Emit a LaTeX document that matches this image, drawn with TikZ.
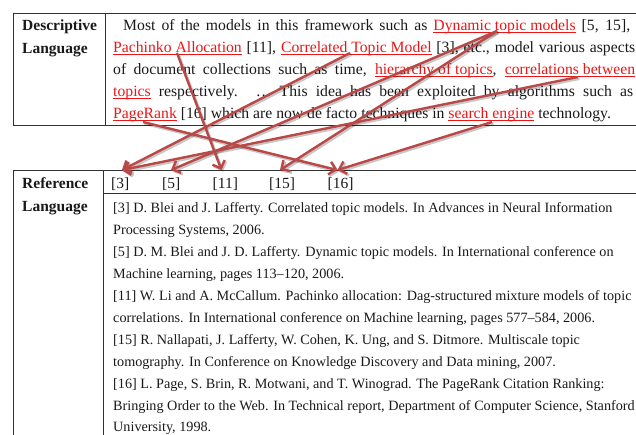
\documentclass[tikz,border=0pt]{standalone}
\usepackage{fontspec}
\setmainfont{Liberation Serif}
\usetikzlibrary{arrows.meta,calc}
\definecolor{arrred}{RGB}{186,72,70}
\definecolor{ulred}{RGB}{236,22,22}
\definecolor{tblgray}{RGB}{50,50,50}
\definecolor{txt}{RGB}{25,25,25}
\newcommand\ulr[1]{{\color{ulred}\setbox0\hbox{#1}\rlap{\rule[-2.4pt]{\wd0}{0.75pt}}\box0}}
\begin{document}
\begin{tikzpicture}[x=1pt,y=-1pt,
  tbl/.style={draw=tblgray,line width=1pt},
  big/.style={anchor=base west,inner sep=0pt,text=txt,font=\fontsize{15.7}{18}\selectfont},
  head/.style={big,font=\fontsize{15.5}{18}\selectfont\bfseries},
  refnum/.style={anchor=base west,inner sep=0pt,text=txt,font=\fontsize{15.5}{18}\selectfont},
  refline/.style={anchor=base west,inner sep=0pt,text=txt,font=\fontsize{14.2}{16}\selectfont},
  arr/.style={draw=arrred,line width=2.4pt,-{Straight Barb[length=6.5pt,width=13pt,line width=2.4pt]}},
  arrsh/.style={draw=black,opacity=0.22,line width=2.8pt,-{Straight Barb[length=6.5pt,width=13pt,line width=2.8pt]}}
]
\useasboundingbox (0,0) rectangle (636,434);
\begin{scope}
\clip (0,0) rectangle (636,434);
% ---- top table
\draw[tbl] (13,13) -- (650,13);
\draw[tbl] (13,125) -- (650,125);
\draw[tbl] (13,13) -- (13,125);
\draw[tbl] (105,13) -- (105,125);
\node[head] (h1) at (22,30) {Descriptive};
\node[head] (h2) at (22,53) {Language};
\node[big] (l1) at (123,30) {\makebox[507pt][s]{Most of the models in this framework such as \ulr{Dynamic topic models} [5, 15],}};
\node[big] (l2) at (113,52) {\makebox[522pt][s]{\ulr{Pachinko Allocation} [11], \ulr{Correlated Topic Model} [3], etc., model various aspects}};
\node[big] (l3) at (113,74) {\makebox[522pt][s]{of document collections such as time, \ulr{hierarchy of topics}, \ulr{correlations between}}};
\node[big] (l4) at (113,96) {\makebox[520pt][s]{\ulr{topics} respectively. … This idea has been exploited by algorithms such as}};
\node[big] (l5) at (113,118) {\ulr{PageRank} [16] which are now de facto techniques in \ulr{search engine} technology.};
% ---- bottom table
\draw[tbl] (13,450) -- (13,170) -- (650,170);
\draw[tbl] (103,170) -- (103,450);
\draw[tbl] (103,193) -- (650,193);
\node[head] (h3) at (22,188) {Reference};
\node[head] (h4) at (22,211) {Language};
\node[refnum] (r3) at (111,188) {[3]};
\node[refnum] (r5) at (162,188) {[5]};
\node[refnum] (r11) at (212.5,188) {[11]};
\node[refnum] (r15) at (269,188) {[15]};
\node[refnum] (r16) at (327.5,188) {[16]};
\node[refline] (b1) at (113,212) {[3] D. Blei and J. Lafferty. Correlated topic models. In Advances in Neural Information};
\node[refline] (b2) at (113,234) {Processing Systems, 2006.};
\node[refline] (b3) at (113,256) {[5] D. M. Blei and J. D. Lafferty. Dynamic topic models. In International conference on};
\node[refline] (b4) at (113,278) {Machine learning, pages 113–120, 2006.};
\node[refline] (b5) at (113,300) {[11] W. Li and A. McCallum. Pachinko allocation: Dag-structured mixture models of topic};
\node[refline] (b6) at (113,322) {correlations. In International conference on Machine learning, pages 577–584, 2006.};
\node[refline] (b7) at (113,344) {[15] R. Nallapati, J. Lafferty, W. Cohen, K. Ung, and S. Ditmore. Multiscale topic};
\node[refline] (b8) at (113,366) {tomography. In Conference on Knowledge Discovery and Data mining, 2007.};
\node[refline] (b9) at (113,388) {[16] L. Page, S. Brin, R. Motwani, and T. Winograd. The PageRank Citation Ranking:};
\node[refline] (b10) at (113,410) {Bringing Order to the Web. In Technical report, Department of Computer Science, Stanford};
\node[refline] (b11) at (113,431) {University, 1998.};
% ---- arrow anchors
\coordinate (sPach) at (177,53);
\coordinate (sCorr) at (350,53);
\coordinate (sDyn) at (497,31);
\coordinate (sCorrel) at (578,77);
\coordinate (sPR) at (143,122);
\coordinate (sSE) at (492,122);
\coordinate (t3) at ($(r3.north west)+(11,-7)$);
\coordinate (t5) at ($(r5.north west)+(9,-7)$);
\coordinate (t11) at ($(r11.north west)+(9,-7)$);
\coordinate (t15) at ($(r15.north west)+(11,-7)$);
\coordinate (t16) at ($(r16.north west)+(10,-7)$);
% ---- shadows
\begin{scope}[transform canvas={shift={(1.4pt,-1.6pt)}}]
\draw[arrsh] (sPach) -- (t11);
\draw[arrsh] (sCorr) -- (t3);
\draw[arrsh] (sDyn) -- (t5);
\draw[arrsh] (sDyn) -- (t15);
\draw[arrsh] (sCorrel) -- (t3);
\draw[arrsh] (sPR) -- (t16);
\draw[arrsh] (sSE) -- (t16);
\end{scope}
% ---- arrows
\draw[arr] (sPach) -- (t11);
\draw[arr] (sCorr) -- (t3);
\draw[arr] (sDyn) -- (t5);
\draw[arr] (sDyn) -- (t15);
\draw[arr] (sCorrel) -- (t3);
\draw[arr] (sPR) -- (t16);
\draw[arr] (sSE) -- (t16);
\end{scope}
\end{tikzpicture}
\end{document}
